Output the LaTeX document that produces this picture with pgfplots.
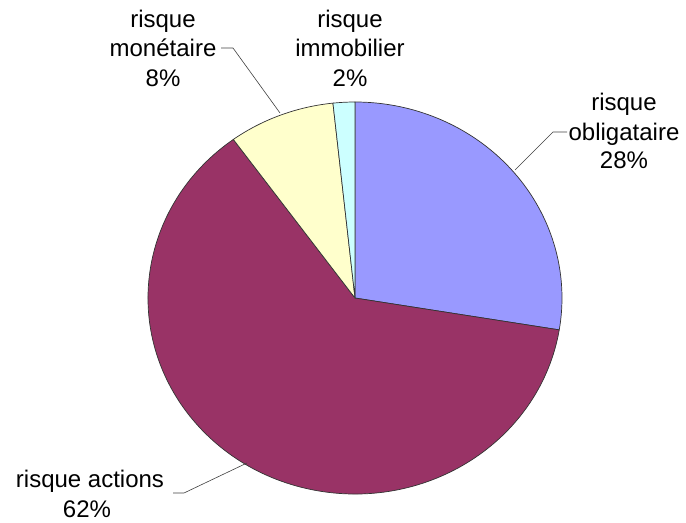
\documentclass[border=0pt]{standalone}
\usepackage{pgfplots}
\pgfplotsset{compat=1.18}
\usepackage{fontspec}
\setmainfont{Liberation Sans}
\definecolor{cObl}{HTML}{9999FF}
\definecolor{cAct}{HTML}{993366}
\definecolor{cMon}{HTML}{FFFFCC}
\definecolor{cImm}{HTML}{CCFFFF}
% shares (percent)
\def\vObl{27.6}\def\vAct{62.4}\def\vMon{8.3}\def\vImm{1.7}
\pgfmathsetmacro\aO{90}
\pgfmathsetmacro\aA{\aO-3.6*\vObl}
\pgfmathsetmacro\aM{\aA-3.6*\vAct}
\pgfmathsetmacro\aI{\aM-3.6*\vMon}
\pgfmathsetmacro\aE{\aI-3.6*\vImm}
\begin{document}
\begin{tikzpicture}
\begin{axis}[
  scale only axis, width=686bp, height=523bp,
  xmin=0, xmax=686, ymin=0, ymax=523, y dir=reverse,
  hide axis, clip=false,
]
\path (axis cs:0,0) rectangle (axis cs:686,523);
\def\ctr{(axis cs:355,298)}
\filldraw[fill=cObl, draw=black!80, line width=0.7bp] (axis cs:355,298) -- ++(\aO:207bp and 196bp) arc[start angle=\aO, end angle=\aA, x radius=207bp, y radius=196bp] -- cycle;
\filldraw[fill=cAct, draw=black!80, line width=0.7bp] (axis cs:355,298) -- ++(\aA:207bp and 196bp) arc[start angle=\aA, end angle=\aM, x radius=207bp, y radius=196bp] -- cycle;
\filldraw[fill=cMon, draw=black!80, line width=0.7bp] (axis cs:355,298) -- ++(\aM:207bp and 196bp) arc[start angle=\aM, end angle=\aI, x radius=207bp, y radius=196bp] -- cycle;
\filldraw[fill=cImm, draw=black!80, line width=0.7bp] (axis cs:355,298) -- ++(\aI:207bp and 196bp) arc[start angle=\aI, end angle=\aE, x radius=207bp, y radius=196bp] -- cycle;
% leader lines
\draw[black!75, line width=0.6bp] (axis cs:221,48) -- (axis cs:233,48) -- (axis cs:280,113);
\draw[black!75, line width=0.6bp] (axis cs:567,132) -- (axis cs:553,132) -- (axis cs:515,170);
\draw[black!75, line width=0.6bp] (axis cs:173,493) -- (axis cs:184,493) -- (axis cs:247,463);
% labels
\tikzset{lbl/.style={anchor=base, inner sep=0pt, font=\fontsize{24bp}{29.5bp}\selectfont}}
\node[lbl] at (axis cs:163,28) {risque};
\node[lbl] at (axis cs:163,57) {monétaire};
\node[lbl] at (axis cs:163,87) {8\%};
\node[lbl] at (axis cs:350,28) {risque};
\node[lbl] at (axis cs:350,57) {immobilier};
\node[lbl] at (axis cs:350,87) {2\%};
\node[lbl] at (axis cs:624,110) {risque};
\node[lbl] at (axis cs:624,140) {obligataire};
\node[lbl] at (axis cs:624,168) {28\%};
\node[lbl] at (axis cs:90,487) {risque actions};
\node[lbl] at (axis cs:87,517) {62\%};
\end{axis}
\end{tikzpicture}
\end{document}
